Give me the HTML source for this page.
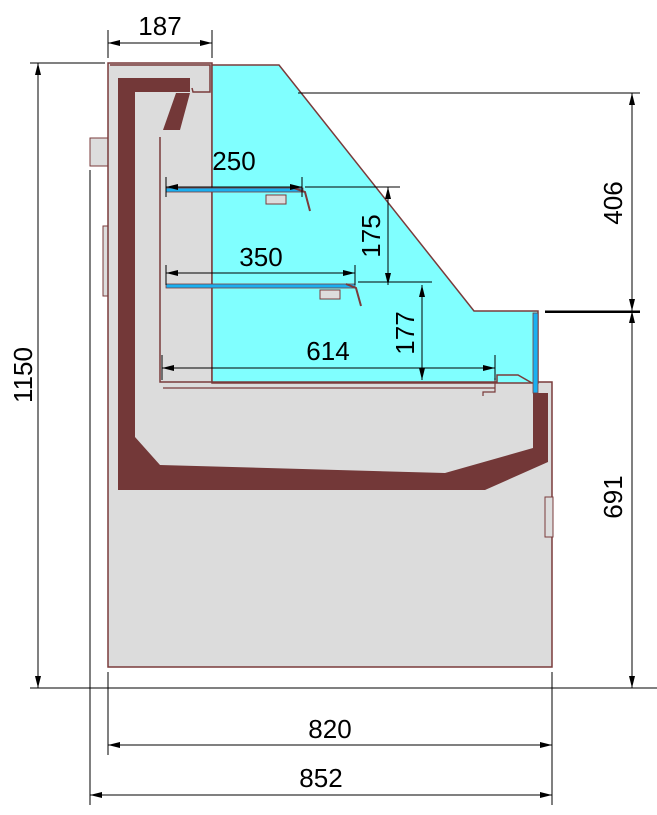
<!DOCTYPE html>
<html><head><style>body{margin:0;background:#fff}svg{display:block}text{font-family:"Liberation Sans",sans-serif;font-size:26px;fill:#000}</style></head><body>
<svg width="657" height="815" viewBox="0 0 657 815" xmlns="http://www.w3.org/2000/svg">
<defs><marker id="a" markerWidth="12" markerHeight="6" refX="12" refY="3" orient="auto-start-reverse"><path d="M0,0L12,3L0,6z" fill="#000"/></marker></defs>
<!-- side parts -->
<rect x="90" y="138" width="28" height="28" fill="#ddd" stroke="#7a3b3b"/>
<rect x="103" y="226" width="15" height="70" fill="#ddd" stroke="#7a3b3b"/>
<!-- body -->
<path d="M108,63H212V382H552V667H108Z" fill="#dcdcdc" stroke="#7a3b3b" stroke-width="1.5"/>
<rect x="545" y="497" width="8" height="40" fill="#ddd" stroke="#7a3b3b"/>
<!-- glass -->
<path d="M212,65H279L474,311H538V383H212Z" fill="#80ffff" stroke="#7a3b3b" stroke-width="1.5"/>
<rect x="533" y="313" width="5" height="80" fill="#1ab0f0" stroke="#7a3b3b" stroke-width="0.8"/>
<!-- top inner -->
<path d="M110,65H210V92H193L192,88" fill="none" stroke="#7a3b3b" stroke-width="1.5"/>
<!-- maroon structure -->
<path d="M118,78H190V92H135V437L160,465L445,473L533,448V393L548,393V462L485,490H118Z" fill="#733838"/>
<path d="M176,93H190L180,130H163Z" fill="#733838"/>
<!-- inner tray -->
<path d="M160,137V382H497V375H518L532,383" fill="none" stroke="#7a3b3b" stroke-width="1.5"/>
<path d="M163,388H495V378M495,388V392H483V396" fill="none" stroke="#7a3b3b" stroke-width="1.2"/>
<!-- shelves -->
<rect x="166" y="188" width="137" height="4" fill="#1ab0f0" stroke="#7a3b3b" stroke-width="0.8"/>
<path d="M294,188L305,192L310,211" fill="none" stroke="#7a3b3b" stroke-width="2"/>
<rect x="266" y="195" width="20" height="9" fill="#ddd" stroke="#7a3b3b"/>
<rect x="166" y="284" width="189" height="4" fill="#1ab0f0" stroke="#7a3b3b" stroke-width="0.8"/>
<path d="M346,284L356,288L361,306" fill="none" stroke="#7a3b3b" stroke-width="2"/>
<rect x="320" y="290" width="20" height="9" fill="#ddd" stroke="#7a3b3b"/>
<!-- dimension lines -->
<g stroke="#000" stroke-width="1" fill="none">
<path d="M108,30V58M212,30V58M30,63H105M30,688H660M90,170V805M108,672V755M552,672V805M298,93H640M545,311H640M38,366V360"/>
<path d="M108,43H212" marker-start="url(#a)" marker-end="url(#a)"/>
<path d="M38,63V688" marker-start="url(#a)" marker-end="url(#a)"/>
<path d="M632,93V311" marker-start="url(#a)" marker-end="url(#a)"/>
<path d="M632,311V688" marker-start="url(#a)" marker-end="url(#a)"/>
<path d="M108,745H552" marker-start="url(#a)" marker-end="url(#a)"/>
<path d="M90,795H552" marker-start="url(#a)" marker-end="url(#a)"/>
<path d="M166,177V197M302,177V197M166,285V265M355,285V265M162,355V380M495,355V380"/>
<path d="M166,187H302" marker-start="url(#a)" marker-end="url(#a)"/>
<path d="M166,273H355" marker-start="url(#a)" marker-end="url(#a)"/>
<path d="M162,368H495" marker-start="url(#a)" marker-end="url(#a)"/>
<path d="M305,187H400M358,282H432"/>
<path d="M388,187V285" marker-start="url(#a)" marker-end="url(#a)"/>
<path d="M422,285V380" marker-start="url(#a)" marker-end="url(#a)"/>
</g>
<path d="M545,312H640" stroke="#000" stroke-width="2"/>
<text x="160" y="35" text-anchor="middle">187</text>
<text x="234" y="170" text-anchor="middle">250</text>
<text x="261" y="266" text-anchor="middle">350</text>
<text x="328" y="360" text-anchor="middle">614</text>
<text x="330" y="738" text-anchor="middle">820</text>
<text x="321" y="787" text-anchor="middle">852</text>
<text transform="translate(32,375) rotate(-90)" text-anchor="middle">1150</text>
<text transform="translate(622,203) rotate(-90)" text-anchor="middle">406</text>
<text transform="translate(622,497) rotate(-90)" text-anchor="middle">691</text>
<text transform="translate(380,236) rotate(-90)" text-anchor="middle">175</text>
<text transform="translate(414,333) rotate(-90)" text-anchor="middle">177</text>
</svg>
</body></html>
